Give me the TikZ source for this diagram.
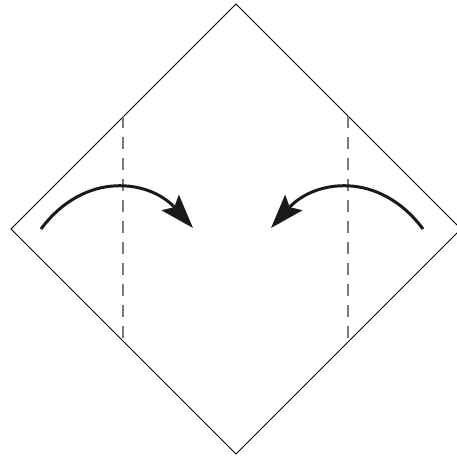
\documentclass[tikz,border=0pt]{standalone}
\usetikzlibrary{arrows.meta}

\begin{document}
\begin{tikzpicture}[x=1bp,y=-1bp,line cap=butt]
\definecolor{foldgray}{HTML}{7A7A7A}
\definecolor{arrowblk}{HTML}{1A1A1A}
\useasboundingbox (0,0) rectangle (457,458);
\coordinate (top) at (236,4);
\coordinate (left) at (11,229);
\coordinate (bottom) at (236,454);
\coordinate (right) at (461,229);
\draw[line width=0.8bp] (top) -- (left) -- (bottom) -- (right) -- cycle;
\draw[foldgray,line width=1.3bp,dash pattern=on 12bp off 9bp] (123,116) -- (123,342);
\draw[foldgray,line width=1.3bp,dash pattern=on 12bp off 9bp] (348,116) -- (348,342);
\draw[arrowblk,line width=3bp,-{Stealth[length=34bp,width=23bp,inset=6bp]}] (41,229) .. controls (85,170) and (150,180) .. (193,228);
\draw[arrowblk,line width=3bp,-{Stealth[length=34bp,width=23bp,inset=6bp]}] (423,229) .. controls (379,170) and (314,180) .. (271,228);
\end{tikzpicture}
\end{document}
